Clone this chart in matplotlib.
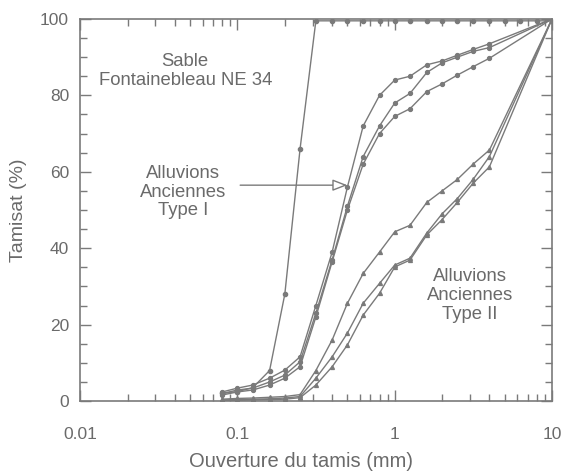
import numpy as np
import matplotlib.pyplot as plt
from matplotlib.ticker import FixedLocator, LogLocator, MultipleLocator, NullFormatter

plt.rcParams['font.family'] = ['Liberation Sans', 'DejaVu Sans']

# Tamis (mm)
tamis = [0.08, 0.1, 0.125, 0.16, 0.2, 0.25, 0.315, 0.4, 0.5, 0.63, 0.8, 1,
         1.25, 1.6, 2, 2.5, 3.15, 4, 5, 6.3, 8, 10]
tamis_all = [0.08, 0.1, 0.125, 0.16, 0.2, 0.25, 0.315, 0.4, 0.5, 0.63, 0.8, 1,
             1.25, 1.6, 2, 2.5, 3.15, 4, 10]

# Sable Fontainebleau NE 34
sable = [2, 2.5, 3.5, 8, 28, 66, 99.5, 99.5, 99.5, 99.5, 99.5, 99.5,
         99.5, 99.5, 99.5, 99.5, 99.5, 99.5, 99.5, 99.5, 99.5, 99.5]

# Alluvions Anciennes Type I
type1_a = [2.4, 3.4, 4.2, 6, 8.1, 11.6, 25, 39, 56, 72, 80, 84, 85, 88, 89, 90.5, 92, 93.5, 100]
type1_b = [2, 2.9, 3.4, 5, 6.8, 10.3, 23, 37, 51, 64, 72, 78, 80.5, 86, 88.5, 90, 91.5, 92.5, 100]
type1_c = [1.6, 2.4, 2.9, 4.2, 6, 9, 22, 36.5, 50, 62, 70, 74.5, 76.5, 81, 83, 85.3, 87.5, 89.7, 100]

# Alluvions Anciennes Type II
type2_a = [0.5, 0.7, 0.8, 1, 1.2, 1.7, 8, 16, 25.6, 33.4, 39, 44.3, 46, 52, 55, 58, 62, 65.7, 100]
type2_b = [0.3, 0.4, 0.5, 0.6, 0.8, 1.2, 6, 11.6, 17.8, 25.6, 30.8, 35.6, 37.4, 44, 49, 53, 58, 64, 100]
type2_c = [0.1, 0.2, 0.3, 0.4, 0.5, 0.9, 4.2, 9, 14.7, 22.5, 28.2, 35.1, 36.9, 43.5, 47.5, 52, 57, 61.3, 100]

gris = '#7a7a7a'
gris_txt = '#6a6a6a'

fig = plt.figure(figsize=(5.65, 4.73), dpi=100)
ax = fig.add_axes([0.142, 0.152, 0.835, 0.808])

ax.plot(tamis, sable, '-o', color=gris, lw=1, ms=3)
for s in (type1_a, type1_b, type1_c):
    ax.plot(tamis_all, s, '-o', color=gris, lw=1, ms=2.8)
for s in (type2_a, type2_b, type2_c):
    ax.plot(tamis_all, s, '-^', color=gris, lw=1, ms=2.8)

ax.set_xscale('log')
ax.set_xlim(0.01, 10)
ax.set_ylim(0, 100)

ax.xaxis.set_major_locator(FixedLocator([0.01, 0.1, 1, 10]))
ax.set_xticklabels(['0.01', '0.1', '1', '10'])
ax.xaxis.set_minor_locator(LogLocator(base=10, subs=np.arange(2, 10)))
ax.xaxis.set_minor_formatter(NullFormatter())
ax.yaxis.set_major_locator(MultipleLocator(20))
ax.yaxis.set_minor_locator(MultipleLocator(5))

ax.tick_params(which='both', direction='in', top=True, right=True, color=gris, width=1)
ax.tick_params(which='major', length=8)
ax.tick_params(which='minor', length=5)
ax.tick_params(axis='x', which='major', pad=19, labelsize=12.5, labelcolor=gris_txt)
ax.tick_params(axis='y', which='major', pad=8, labelsize=12.5, labelcolor=gris_txt)
for sp in ax.spines.values():
    sp.set_color(gris)
    sp.set_linewidth(1.2)

ax.text(0.0465, 86.4, 'Sable\nFontainebleau NE 34', ha='center', va='center',
        fontsize=13.3, color=gris_txt, linespacing=1.15)
ax.text(0.0452, 54.7, 'Alluvions\nAnciennes\nType I', ha='center', va='center',
        fontsize=13.3, color=gris_txt, linespacing=1.15)
ax.text(3.0, 27.7, 'Alluvions\nAnciennes\nType II', ha='center', va='center',
        fontsize=13.3, color=gris_txt, linespacing=1.15)

ax.annotate('', xy=(0.5, 56.5), xytext=(0.104, 56.5),
            arrowprops=dict(arrowstyle='-|>,head_length=0.9,head_width=0.35',
                            fc='white', ec=gris, lw=1, shrinkA=0, shrinkB=0))

fig.text(0.532, 0.025, 'Ouverture du tamis (mm)', ha='center', va='center',
         fontsize=14.5, color=gris_txt)
fig.text(0.032, 0.556, 'Tamisat (%)', ha='center', va='center', rotation=90,
         fontsize=14, color=gris_txt)

fig.savefig('out.png', dpi=100)
